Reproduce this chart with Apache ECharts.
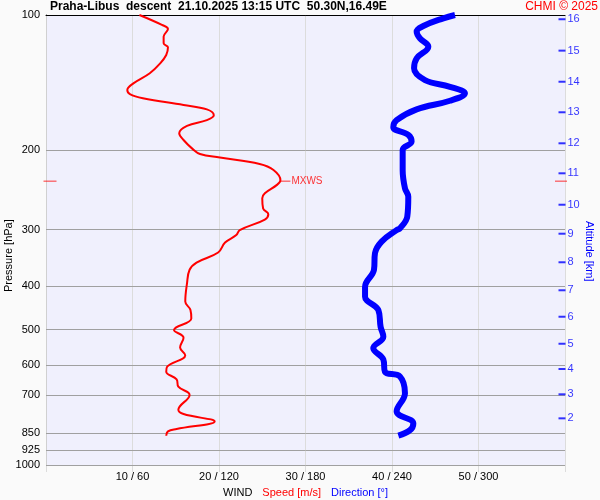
<!DOCTYPE html>
<html>
<head>
<meta charset="utf-8">
<script src="https://cdn.jsdelivr.net/npm/echarts@6/dist/echarts.min.js"></script>
<style>
  html, body { margin: 0; padding: 0; background: #fafafa; }
  #chart { width: 600px; height: 500px; }
</style>
</head>
<body>
<div id="chart"></div>
<script>
// wind speed profile [m/s, hPa]
var speedData = [
  [10.8, 100], [13.4, 105.2], [14.1, 107.4], [13.6, 111.7], [13.6, 115.6], [14.1, 118.0],
  [13.9, 122.7], [13.2, 128.1], [12.0, 134.7], [10.1, 141.9], [9.4, 146.8], [9.7, 149.9],
  [11.2, 153.1], [15.9, 158.5], [18.6, 162.1], [19.4, 167.1], [18.6, 171.3], [16.3, 176.4],
  [15.4, 183.2], [15.9, 189.6], [17.0, 198.9], [17.8, 203.7], [20.1, 207.4], [24.7, 214.3],
  [26.3, 221.0], [27.1, 232.8], [26.7, 238.5], [25.3, 249.0], [25.0, 255.5], [25.1, 269.1],
  [25.7, 277.1], [25.3, 284.8], [22.4, 300.6], [22.0, 308.4], [20.7, 320.4], [19.9, 337.1],
  [17.4, 354.9], [16.6, 368.2], [16.3, 395.0], [16.1, 433.3], [16.7, 452.4], [16.8, 472.6],
  [14.8, 501.2], [15.9, 521.2], [15.5, 548.3], [16.1, 570.2], [14.0, 605.0], [13.9, 620.5],
  [15.1, 644.9], [15.3, 669.6], [16.6, 698.6], [15.3, 754.0], [15.9, 770.4], [19.5, 800.2],
  [15.1, 832.0], [14.1, 842.1], [13.9, 860.9]
];
// wind direction profile [deg, hPa]
var dirData = [
  [283.7, 100], [275.6, 101.7], [261.7, 105.8], [257.1, 108.9], [259.4, 112.7], [265.2, 117.6],
  [257.1, 124.8], [255.3, 131.4], [262.9, 139.5], [280.2, 144.4], [290.6, 149.3], [280.2, 155.1],
  [257.1, 162.1], [243.2, 171.3], [240.9, 177.6], [251.3, 184.7], [253.6, 191.1], [247.4, 199.5],
  [247.4, 221.2], [249.0, 242.7], [251.3, 253.4], [250.6, 280.6], [245.5, 297.8], [243.2, 300.6],
  [232.8, 318.8], [228.2, 338.2], [227.5, 368.2], [221.3, 402.0], [221.3, 422.7], [230.5, 452.4],
  [232.1, 493.3], [234.0, 518.6], [227.0, 549.8], [234.0, 583.0], [235.1, 620.5], [245.5, 635.7],
  [249.0, 692.7], [243.2, 760.0], [254.8, 808.3], [252.5, 836.8], [244.4, 860.9]
];
// pressure levels with grid lines
var pressureLevels = [100, 200, 300, 400, 500, 600, 700, 850, 925, 1000];
// altitude ticks [km] and the pressure they sit at
var altKm = [16, 15, 14, 13, 12, 11, 10, 9, 8, 7, 6, 5, 4, 3, 2];
var altPressure = [102.2, 120.0, 140.7, 164.5, 192.8, 224.8, 264.0, 306.2, 354.4, 409.0, 468.3, 537.7, 611.9, 696.5, 787.6];
// max wind
var mxwsSpeed = 27.1;
var mxwsPressure = 234;

var chart = echarts.init(document.getElementById('chart'));
var font = 'Liberation Sans, Arial, sans-serif';

var levelLines = pressureLevels.map(function (p) {
  return {
    yAxis: p,
    lineStyle: { color: p === 100 ? '#000' : '#a0a0a0' }
  };
});

var altTicks = altKm.map(function (k, i) {
  return { value: [360, altPressure[i]], km: k };
});

chart.setOption({
  backgroundColor: '#fafafa',
  textStyle: { fontFamily: font },
  animation: false,
  title: [
    {
      text: 'Praha-Libus  descent  21.10.2025 13:15 UTC  50.30N,16.49E',
      left: 50, top: 1, padding: 0,
      textStyle: { fontSize: 12, fontWeight: 'bold', color: '#000', fontFamily: font }
    },
    {
      text: 'CHMI © 2025',
      right: 2, top: 1, padding: 0,
      textStyle: { fontSize: 12, fontWeight: 'normal', color: '#ff0000', fontFamily: font }
    }
  ],
  grid: {
    left: 46, right: 35, top: 15, bottom: 35,
    outerBoundsMode: 'none',
    show: true, backgroundColor: '#f0f0fd', borderWidth: 0
  },
  xAxis: [
    {
      type: 'value', min: 0, max: 60, interval: 10, position: 'bottom',
      axisLine: { show: false },
      axisTick: { show: true, length: 7, lineStyle: { color: '#dcdcdc' } },
      splitLine: { show: true, lineStyle: { color: '#dcdcdc' } },
      axisLabel: {
        color: '#000', fontSize: 11, margin: 6,
        formatter: function (v) { return (v === 0 || v === 60) ? '' : v + ' / ' + v * 6; }
      },
      name: '{w|WIND}   {s|Speed [m/s]}   {d|Direction [°]}',
      nameLocation: 'middle', nameGap: 20,
      nameTextStyle: {
        rich: {
          w: { color: '#000', fontSize: 11 },
          s: { color: '#ff0000', fontSize: 11 },
          d: { color: '#0000ff', fontSize: 11 }
        }
      }
    },
    {
      type: 'value', min: 0, max: 360, position: 'top',
      axisLine: { show: true, onZero: false, lineStyle: { color: '#000' } },
      axisTick: { show: false },
      axisLabel: { show: false },
      splitLine: { show: false }
    }
  ],
  yAxis: [
    {
      type: 'log', logBase: 10, min: 100, max: 1000, inverse: true,
      axisLine: { show: true, lineStyle: { color: '#000' } },
      axisTick: { show: false },
      axisLabel: { show: false },
      splitLine: { show: false },
      minorSplitLine: { show: false }
    },
    {
      type: 'value', min: 0, max: 1, position: 'right',
      axisLine: { show: true, lineStyle: { color: '#d0d0d0' } },
      axisTick: { show: false },
      axisLabel: { show: false },
      splitLine: { show: false }
    }
  ],
  graphic: [
    {
      type: 'text', x: 3, y: 292, rotation: Math.PI / 2,
      style: { text: 'Pressure [hPa]', fill: '#000', font: '11px ' + font }
    },
    {
      type: 'text', x: 595, y: 221, rotation: -Math.PI / 2,
      style: { text: 'Altitude [km]', fill: '#0000ff', font: '11px ' + font }
    }
  ],
  series: [
    {
      name: 'Direction',
      type: 'line',
      xAxisIndex: 1,
      yAxisIndex: 0,
      data: dirData,
      symbol: 'none',
      smooth: 0.4,
      z: 3,
      lineStyle: { color: '#0000ff', width: 6 }
    },
    {
      name: 'Speed',
      type: 'line',
      xAxisIndex: 0,
      yAxisIndex: 0,
      data: speedData,
      symbol: 'none',
      smooth: 0.4,
      z: 4,
      lineStyle: { color: '#ff0000', width: 2 },
      markLine: {
        silent: true,
        symbol: 'none',
        z: 1,
        lineStyle: { type: 'solid', width: 1 },
        label: {
          position: 'start', distance: 6, color: '#000', fontSize: 11,
          formatter: function (p) { return p.value; }
        },
        data: levelLines
      }
    },
    {
      // altitude ticks on the right edge
      name: 'alt',
      type: 'scatter',
      xAxisIndex: 1,
      yAxisIndex: 0,
      clip: false,
      symbol: 'rect',
      symbolSize: [7, 2],
      symbolOffset: [-3, 0],
      itemStyle: { color: '#0000ff' },
      label: {
        show: true, position: 'right', distance: 2, color: '#0000ff', fontSize: 11,
        formatter: function (p) { return p.data.km; }
      },
      data: altTicks
    },
    {
      // max wind marks
      name: 'mxws',
      type: 'scatter',
      xAxisIndex: 0,
      yAxisIndex: 0,
      clip: false,
      symbol: 'rect',
      itemStyle: { color: '#ff0000' },
      data: [
        {
          value: [mxwsSpeed, mxwsPressure], symbolSize: [10, 1], symbolOffset: [5, 0],
          label: { show: true, position: 'right', distance: 1, color: '#ff0000', fontSize: 10, formatter: 'MXWS' }
        },
        { value: [0, mxwsPressure], symbolSize: [13, 1], symbolOffset: [4, 0] },
        { value: [60, mxwsPressure], symbolSize: [12, 1], symbolOffset: [-4, 0] }
      ]
    }
  ]
});
</script>
</body>
</html>
